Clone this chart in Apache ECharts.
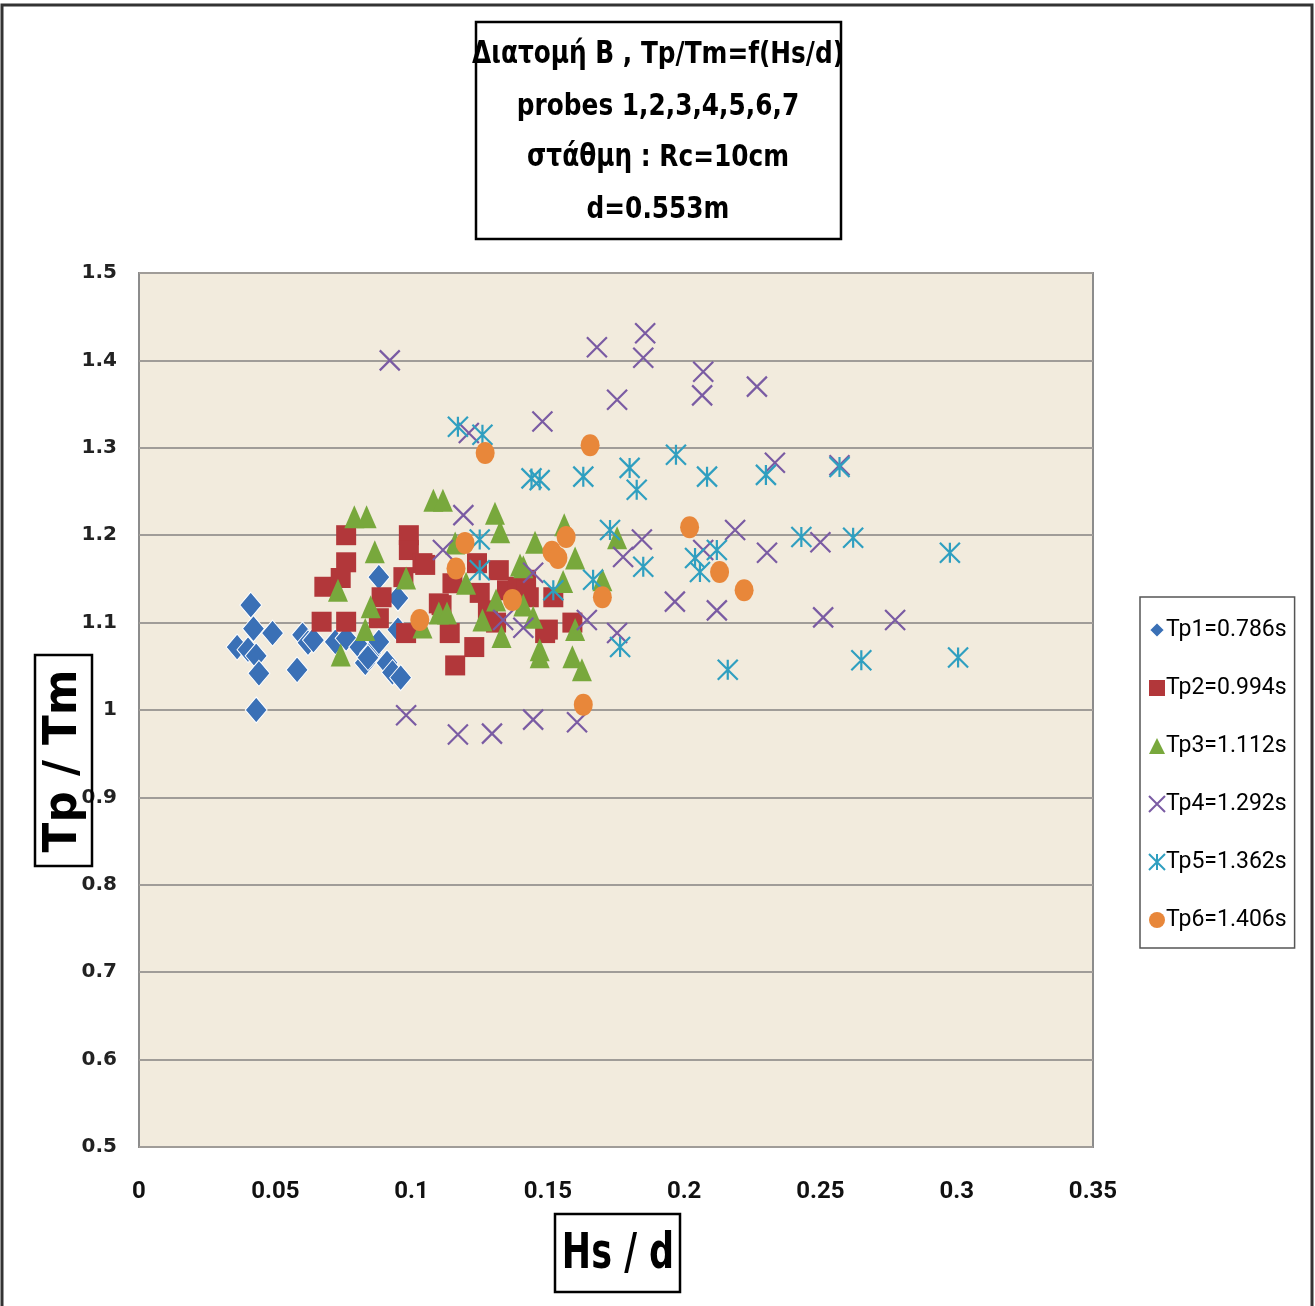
<!DOCTYPE html>
<html>
<head>
<meta charset="utf-8">
<script src="https://cdn.jsdelivr.net/npm/echarts@6/dist/echarts.min.js"></script>
<style>
  html, body { margin: 0; padding: 0; background: #ffffff; }
  #chart { width: 1315px; height: 1306px; }
</style>
</head>
<body>
<div id="chart"></div>
<script>
// Hs/d vs Tp/Tm for six peak periods, probes 1-7
const seriesNames = ['Tp1=0.786s', 'Tp2=0.994s', 'Tp3=1.112s', 'Tp4=1.292s', 'Tp5=1.362s', 'Tp6=1.406s'];

const tp1 = [[0.041,1.120],[0.042,1.093],[0.049,1.088],[0.036,1.072],[0.040,1.069],[0.043,1.062],[0.044,1.042],[0.043,1.000],[0.058,1.046],[0.060,1.086],[0.062,1.077],[0.064,1.080],[0.072,1.078],[0.076,1.082],[0.081,1.072],[0.085,1.065],[0.083,1.054],[0.088,1.078],[0.091,1.054],[0.093,1.043],[0.096,1.037],[0.095,1.092],[0.088,1.152],[0.095,1.128],[0.084,1.060]];

const tp2 = [[0.076,1.200],[0.076,1.169],[0.068,1.141],[0.074,1.151],[0.067,1.101],[0.076,1.101],[0.089,1.129],[0.088,1.105],[0.099,1.200],[0.099,1.183],[0.104,1.168],[0.097,1.152],[0.098,1.088],[0.105,1.166],[0.110,1.122],[0.114,1.088],[0.116,1.051],[0.115,1.145],[0.124,1.168],[0.123,1.072],[0.125,1.134],[0.128,1.114],[0.132,1.160],[0.131,1.100],[0.135,1.137],[0.139,1.141],[0.142,1.149],[0.143,1.129],[0.142,1.137],[0.150,1.092],[0.149,1.088],[0.152,1.129],[0.159,1.100],[0.111,1.120]];

const tp3 = [[0.079,1.221],[0.0835,1.221],[0.0865,1.181],[0.073,1.137],[0.085,1.118],[0.083,1.092],[0.074,1.063],[0.098,1.151],[0.108,1.240],[0.1115,1.240],[0.110,1.111],[0.113,1.111],[0.104,1.095],[0.116,1.191],[0.120,1.145],[0.126,1.103],[0.1306,1.225],[0.1325,1.204],[0.131,1.126],[0.133,1.084],[0.1398,1.166],[0.141,1.120],[0.1446,1.106],[0.1453,1.192],[0.147,1.069],[0.147,1.061],[0.156,1.212],[0.160,1.174],[0.141,1.164],[0.1556,1.147],[0.160,1.092],[0.159,1.061],[0.1625,1.046],[0.170,1.149],[0.1754,1.197]];

const tp4 = [[0.092,1.400],[0.098,0.994],[0.1115,1.183],[0.117,0.972],[0.119,1.223],[0.121,1.317],[0.1295,0.973],[0.1336,1.103],[0.141,1.094],[0.1446,1.157],[0.1446,0.989],[0.148,1.330],[0.1607,0.986],[0.1643,1.103],[0.168,1.415],[0.1754,1.355],[0.1754,1.088],[0.1776,1.175],[0.185,1.403],[0.1857,1.431],[0.1845,1.195],[0.1966,1.124],[0.2066,1.360],[0.207,1.387],[0.207,1.183],[0.212,1.114],[0.2187,1.206],[0.2267,1.370],[0.2304,1.180],[0.2333,1.283],[0.250,1.192],[0.251,1.106],[0.257,1.280],[0.2774,1.103]];

const tp5 = [[0.117,1.324],[0.126,1.315],[0.125,1.195],[0.125,1.160],[0.144,1.265],[0.147,1.263],[0.152,1.137],[0.163,1.267],[0.1666,1.149],[0.1728,1.206],[0.1765,1.072],[0.180,1.277],[0.1826,1.252],[0.185,1.164],[0.197,1.292],[0.204,1.174],[0.2058,1.158],[0.2084,1.267],[0.212,1.183],[0.216,1.046],[0.230,1.269],[0.243,1.198],[0.257,1.278],[0.262,1.197],[0.265,1.057],[0.2975,1.180],[0.3005,1.060]];

const tp6 = [[0.127,1.294],[0.1655,1.303],[0.1196,1.191],[0.1163,1.162],[0.137,1.126],[0.1515,1.181],[0.1537,1.174],[0.1567,1.198],[0.170,1.129],[0.103,1.103],[0.163,1.006],[0.202,1.209],[0.213,1.158],[0.222,1.137]];

const titleLines = ['Διατομή Β , Tp/Tm=f(Hs/d)', 'probes 1,2,3,4,5,6,7', 'στάθμη : Rc=10cm', 'd=0.553m'];

const boldSans = "'DejaVu Sans', sans-serif";
const crossPath = 'path://M0,0L10,10M10,0L0,10';
const starPath = 'path://M0,0L10,10M10,0L0,10M5,0L5,10';

const chart = echarts.init(document.getElementById('chart'), null, { renderer: 'canvas' });

// condensed-looking heading text: horizontally squeezed bold sans
const titleGraphics = titleLines.map((t, i) => ({
  type: 'text',
  x: 658, y: 55 + i * 51.7, scaleX: 0.8, z: 101,
  style: { text: t, font: 'bold 31px ' + boldSans, fill: '#000', align: 'center', verticalAlign: 'middle' }
}));

chart.setOption({
  backgroundColor: '#ffffff',
  animation: false,
  grid: {
    left: 139, top: 273, width: 954, height: 874,
    show: true, backgroundColor: '#f2ebdd', borderColor: '#8c8c8c', borderWidth: 2
  },
  xAxis: {
    type: 'value', min: 0, max: 0.35, interval: 0.05,
    axisLine: { show: false }, axisTick: { show: false },
    splitLine: { show: false },
    axisLabel: { margin: 33, fontFamily: 'Roboto, sans-serif', fontWeight: 'bold', fontSize: 24, color: '#111',
      formatter: v => String(+v.toFixed(2)) }
  },
  yAxis: {
    type: 'value', min: 0.5, max: 1.5, interval: 0.1,
    axisLine: { show: false }, axisTick: { show: false },
    splitLine: { show: true, lineStyle: { color: '#a09c98', width: 2 } },
    axisLabel: { margin: 22, fontFamily: boldSans, fontWeight: 'bold', fontSize: 20, color: '#222',
      formatter: v => String(+v.toFixed(1)) }
  },
  legend: {
    orient: 'vertical', left: 1140, top: 597,
    padding: [21, 8, 16, 8],
    borderColor: '#555', borderWidth: 1.5, backgroundColor: '#ffffff',
    itemWidth: 16, itemHeight: 16, itemGap: 34,
    textStyle: { fontFamily: 'Roboto, sans-serif', fontSize: 23, color: '#000', lineHeight: 24, padding: [0, 0, 0, -4] },
    data: seriesNames
  },
  series: [
    { name: seriesNames[0], type: 'scatter', data: tp1, symbol: 'diamond', symbolSize: [22, 26],
      itemStyle: { color: '#3a70b6', borderColor: '#ffffff', borderWidth: 1, opacity: 1 } },
    { name: seriesNames[1], type: 'scatter', data: tp2, symbol: 'rect', symbolSize: 20,
      itemStyle: { color: '#b2373a', opacity: 1 } },
    { name: seriesNames[2], type: 'scatter', data: tp3, symbol: 'triangle', symbolSize: [20, 23],
      itemStyle: { color: '#78a83c', opacity: 1 } },
    { name: seriesNames[3], type: 'scatter', data: tp4, symbol: crossPath, symbolSize: 20,
      itemStyle: { color: 'transparent', borderColor: '#7a5ba3', borderWidth: 2.2, opacity: 1 } },
    { name: seriesNames[4], type: 'scatter', data: tp5, symbol: starPath, symbolSize: 20,
      itemStyle: { color: 'transparent', borderColor: '#2f9fc0', borderWidth: 2.2, opacity: 1 } },
    { name: seriesNames[5], type: 'scatter', data: tp6, symbol: 'circle', symbolSize: [19, 22],
      itemStyle: { color: '#e8873a', opacity: 1 } }
  ],
  graphic: [
    // outer frame
    { type: 'rect', shape: { x: 2, y: 5, width: 1310, height: 1320 },
      style: { fill: 'none', stroke: '#333', lineWidth: 3 }, z: 100 },
    // heading box
    { type: 'rect', shape: { x: 476, y: 22, width: 365, height: 217 },
      style: { fill: '#fff', stroke: '#000', lineWidth: 2.5 }, z: 100 },
    ...titleGraphics,
    // x axis name
    { type: 'rect', shape: { x: 555, y: 1214, width: 125, height: 78 },
      style: { fill: '#fff', stroke: '#000', lineWidth: 2.5 }, z: 100 },
    { type: 'text', x: 618, y: 1255, scaleX: 0.7, z: 101,
      style: { text: 'Hs / d', font: 'bold 50px ' + boldSans, fill: '#000', align: 'center', verticalAlign: 'middle' } },
    // y axis name
    { type: 'rect', shape: { x: 35, y: 655, width: 57, height: 211 },
      style: { fill: 'none', stroke: '#000', lineWidth: 2.5 }, z: 100 },
    { type: 'text', x: 64, y: 761, rotation: Math.PI / 2, scaleX: 0.95, z: 101,
      style: { text: 'Tp / Tm', font: 'bold 46px ' + boldSans, fill: '#000', align: 'center', verticalAlign: 'middle' } }
  ]
});
</script>
</body>
</html>
